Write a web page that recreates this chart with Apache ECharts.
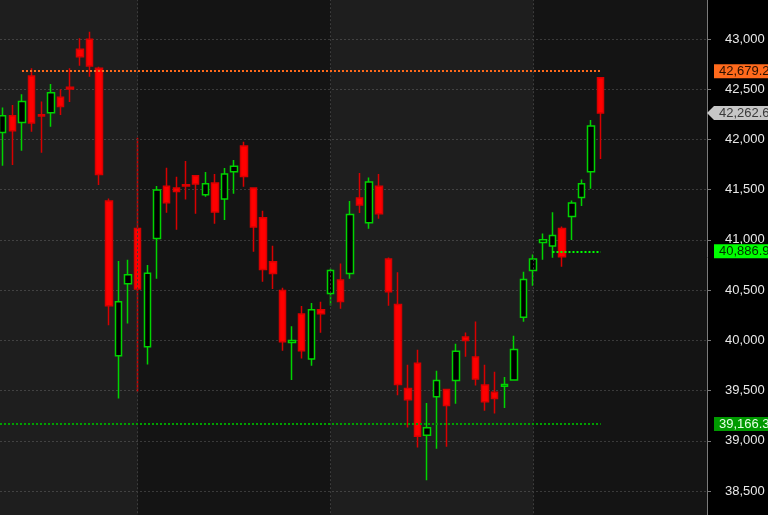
<!DOCTYPE html>
<html><head><meta charset="utf-8">
<script src="https://cdn.jsdelivr.net/npm/echarts@6/dist/echarts.min.js"></script>
<style>html,body{margin:0;padding:0;background:#000;overflow:hidden}#c{width:768px;height:515px}</style>
</head><body><div id="c"></div>
<script>
// ---- data ----
const opens  = [42070,42236,42170,42631,42246,42266,42419,42519,42897,42997,42708,41386,39846,40563,41114,39936,41015,41533,41516,41549,41639,41450,41566,41406,41679,41934,41516,41220,40782,40497,39979,40261,39813,40304,40467,40600,40666,41416,41171,41533,40809,40357,39521,39773,39056,39438,39511,39600,40032,39833,39554,39484,39544,39604,40231,40696,40975,40938,41114,41234,41423,41679,42615];
const closes = [42236,42087,42379,42163,42233,42465,42329,42502,42824,42731,41652,40344,40384,40653,40510,40669,41496,41370,41483,41536,41556,41559,41277,41655,41732,41632,41128,40706,40666,39985,39999,39896,40304,40264,40696,40387,41254,41347,41576,41260,40483,39560,39408,39046,39129,39600,39351,39892,39999,39614,39388,39421,39560,39909,40606,40809,41001,41044,40832,41367,41559,42133,42262.6];
const lows   = [41738,41745,41888,42077,41868,42127,42243,42373,42734,42625,41546,40151,39421,40168,39487,39760,40613,41270,41101,41403,41260,41430,41161,41197,41460,41529,40882,40583,40510,39896,39604,39819,39746,40075,40347,40314,40613,41267,41111,41210,40344,39454,39132,38933,38608,38920,38940,39368,39836,39550,39298,39272,39325,39600,40185,40543,40802,40822,40732,40998,41337,41509,41805];
const highs  = [42319,42343,42449,42708,42379,42552,42499,42708,43007,43073,42724,41413,40789,40802,42017,40749,41536,41718,41629,41785,41645,41675,41655,41715,41795,41977,41520,41290,40942,40523,40141,40341,40371,40384,40716,40766,41386,41665,41622,41655,40825,40679,39756,39906,39375,39697,39515,39966,40078,40188,39756,39687,39634,40045,40683,40855,41064,41274,41134,41393,41602,42193,42615];
const monthStarts = [14, 34, 55];          // candle indices where a new period begins
const emptySlotsRight = 11;                // empty bars after the last candle
const yMin = 38000, yMax = 43500, yStep = 500;
const resistance = 42679.2, lastClose = 42262.6, midLevel = 40886.9, support = 39166.3;
const resistanceFrom = 2, midFrom = 57;    // start index of the level lines

// ---- build ----
const n = opens.length;
const candleData = opens.map((o, i) => [i, o, closes[i], lows[i], highs[i]]);
const xMin = -0.28, xMax = n - 1 + emptySlotsRight + 0.02;
const fmt = v => Number(v).toLocaleString('en-US', {maximumFractionDigits: 1});
const lastIdx = n - 1;
const FONT = 'Liberation Sans, Arial, sans-serif';
const tag = (bg, fg) => ({backgroundColor: bg, color: fg, fontSize: 13, fontFamily: FONT, padding: [1, 5, 0, 5], lineHeight: 13});

const chart = echarts.init(document.getElementById('c'), null, {renderer: 'canvas'});
const option = {
  backgroundColor: '#000',
  animation: false,
  grid: {left: 0, right: 61, top: -11.2, bottom: -26.2, containLabel: false, outerBoundsMode: 'none',
         show: true, backgroundColor: '#141414', borderWidth: 0, borderColor: 'transparent'},
  xAxis: {type: 'value', min: xMin, max: xMax, show: false,
          axisLine: {show: false, onZero: false}, splitLine: {show: false}},
  yAxis: [{
    type: 'value', position: 'right', min: yMin, max: yMax, interval: yStep,
    axisLine: {show: true, onZero: false, lineStyle: {color: '#7a7a7a', width: 1}},
    axisTick: {show: true, length: 4, lineStyle: {color: '#7a7a7a'}},
    axisLabel: {margin: 18, color: '#e8e8e8', fontSize: 13, fontFamily: FONT, formatter: v => fmt(v)},
    splitLine: {show: true, lineStyle: {color: '#3a3a3a', type: [2, 2], width: 1}}
  }, {
    type: 'value', position: 'right', min: yMin, max: yMax,
    axisLine: {show: false, onZero: false}, axisTick: {show: false}, splitLine: {show: false},
    axisLabel: {
      customValues: [resistance, lastClose, midLevel, support],
      margin: 7,
      formatter: v => {
        const key = v === resistance ? 'o' : v === lastClose ? 'g' : v === midLevel ? 'b' : 'd';
        return '{' + key + '|' + fmt(v) + '}';
      },
      rich: {
        o: tag('#ff6a1c', '#2a1000'),
        g: tag('#c6c6c6', '#3a3a3a'),
        b: tag('#00ff00', '#003000'),
        d: tag('#009a00', '#e6ffe6')
      }
    }
  }],
  series: [{
    type: 'line', data: [], z: 1, silent: true,
    markArea: {
      silent: true,
      itemStyle: {color: 'rgba(255,255,255,0.042)', borderWidth: 0},
      data: [[{xAxis: xMin}, {xAxis: monthStarts[0]}], [{xAxis: monthStarts[1]}, {xAxis: monthStarts[2]}]]
    },
    markLine: {
      silent: true, symbol: 'none', label: {show: false},
      lineStyle: {color: '#3c3c3c', type: [2, 2], width: 1},
      data: monthStarts.map(m => ({xAxis: m}))
    }
  }, {
    type: 'candlestick', z: 3,
    encode: {x: 0, y: [1, 2, 3, 4]},
    barWidth: 7,
    data: candleData,
    itemStyle: {color: '#000000', borderColor: '#00d400', color0: '#ff0000', borderColor0: '#d80000', borderWidth: 1.5},
    markLine: {
      silent: true, symbol: 'none', label: {show: false},
      data: [
        [{coord: [resistanceFrom, resistance], lineStyle: {color: '#ff6a1c', type: [2, 2], width: 2}}, {coord: [lastIdx, resistance]}],
        [{coord: [xMin, support], lineStyle: {color: '#00a000', type: [2, 2], width: 2}}, {coord: [lastIdx, support]}],
        [{coord: [midFrom, midLevel], lineStyle: {color: '#00ff00', type: [2, 2], width: 2}}, {coord: [lastIdx, midLevel]}]
      ]
    }
  }]
};
chart.setOption(option);
// arrow of the last-price tag
const ax = chart.convertToPixel({xAxisIndex: 0}, xMax);
const ay = chart.convertToPixel({yAxisIndex: 0}, lastClose);
chart.setOption({graphic: [{type: 'polygon', z: 100, shape: {points: [[ax, ay], [ax + 7, ay - 7], [ax + 7, ay + 7]]}, style: {fill: '#c6c6c6'}}]});
</script></body></html>
